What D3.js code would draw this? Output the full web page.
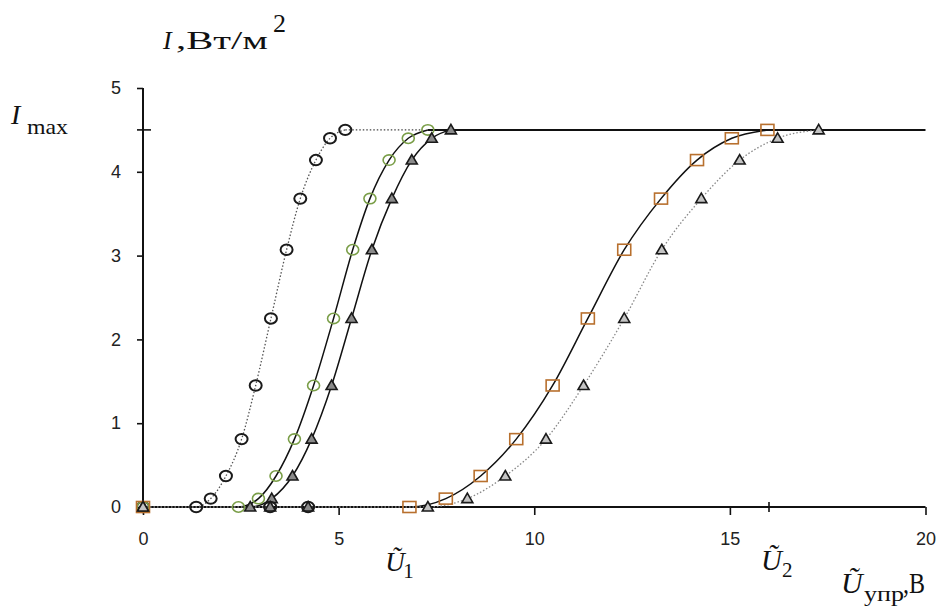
<!DOCTYPE html>
<html>
<head>
<meta charset="utf-8">
<script src="https://cdn.jsdelivr.net/npm/d3@7"></script>
<style>
  body { margin: 0; background: #fff; }
  .tick text { font-family: 'Liberation Sans', Arial, sans-serif; font-size: 18px; fill: #222; }
  .lbl { font-family: 'Liberation Serif', 'Times New Roman', serif; fill: #111; }
</style>
</head>
<body>
<div class="chart"></div>
<script>
// intensity levels shared by all curves (Вт/м²)
const levels = [0, 0, 0.1, 0.37, 0.81, 1.45, 2.25, 3.07, 3.68, 4.14, 4.4, 4.5]

// control voltage for each curve
const uBlackCircles = [0, 1.36, 1.73, 2.12, 2.52, 2.88, 3.27, 3.67, 4.02, 4.42, 4.78, 5.17]
const uGreenCircles = [0, 2.44, 2.95, 3.4, 3.87, 4.36, 4.87, 5.36, 5.8, 6.29, 6.78, 7.28]
const uDarkTriangles = [0, 2.74, 3.29, 3.82, 4.31, 4.82, 5.33, 5.85, 6.36, 6.87, 7.38, 7.87]
const uSquares = [0, 6.81, 7.74, 8.63, 9.54, 10.47, 11.37, 12.3, 13.24, 14.16, 15.05, 15.96]
const uGreyTriangles = [0, 7.28, 8.29, 9.26, 10.3, 11.26, 12.3, 13.26, 14.27, 15.25, 16.22, 17.27]

// stray zero readings drawn on the axis
const extraZeros = [3.25, 4.22]

const iMax = 4.5
const iMaxDotted = [5.17, 7.15]
const iMaxSolid = [7.28, 20]

const xTicks = [0, 5, 10, 15, 20]
const yTicks = [0, 1, 2, 3, 4, 5]
const u1 = 6.6
const u2 = 16

;(function init() {
  const width = 945
  const height = 608

  const xScale = d3.scaleLinear().domain([0, 20]).range([143, 925.5])
  const yScale = d3.scaleLinear().domain([0, 5]).range([507, 88])

  const svg = d3
    .select('.chart')
    .append('svg')
    .attr('width', width)
    .attr('height', height)

  // axes
  const yAxis = d3.axisLeft(yScale).tickValues(yTicks).tickFormat(d3.format('d'))
    .tickSize(6).tickPadding(16).tickSizeOuter(0)
  svg.append('g').attr('transform', 'translate(' + xScale(0) + ',0)').call(yAxis)
    .call((g) => g.select('.domain').remove())
  const xAxis = d3.axisBottom(xScale).tickValues(xTicks).tickFormat(d3.format('d'))
    .tickSize(8).tickPadding(17).tickSizeOuter(0)
  svg.append('g').attr('transform', 'translate(0,' + yScale(0) + ')').call(xAxis)
    .call((g) => g.select('.domain').remove())
  svg.selectAll('.tick line').attr('stroke', '#111').attr('stroke-width', 1.6)

  svg.append('line')
    .attr('x1', xScale(0)).attr('x2', xScale(0))
    .attr('y1', yScale(0)).attr('y2', yScale(5))
    .attr('stroke', '#111').attr('stroke-width', 2)
  svg.append('line')
    .attr('x1', xScale(0)).attr('x2', xScale(20))
    .attr('y1', yScale(0)).attr('y2', yScale(0))
    .attr('stroke', '#111').attr('stroke-width', 2)

  // crossing ticks for Imax and U2
  svg.append('line')
    .attr('x1', xScale(0) - 6).attr('x2', xScale(0) + 8)
    .attr('y1', yScale(iMax)).attr('y2', yScale(iMax))
    .attr('stroke', '#111').attr('stroke-width', 1.6)
  svg.append('line')
    .attr('x1', xScale(u2)).attr('x2', xScale(u2))
    .attr('y1', yScale(0) - 5).attr('y2', yScale(0) + 5)
    .attr('stroke', '#111').attr('stroke-width', 1.6)

  // Imax level
  svg.append('line')
    .attr('x1', xScale(iMaxSolid[0])).attr('x2', xScale(iMaxSolid[1]))
    .attr('y1', yScale(iMax)).attr('y2', yScale(iMax))
    .attr('stroke', '#111').attr('stroke-width', 2)
  svg.append('line')
    .attr('x1', xScale(iMaxDotted[0])).attr('x2', xScale(iMaxDotted[1]))
    .attr('y1', yScale(iMax)).attr('y2', yScale(iMax))
    .attr('stroke', '#444').attr('stroke-width', 1.3).attr('stroke-dasharray', '1.5,2')

  const series = [
    { u: uBlackCircles, stroke: '#555', dash: '1.5,2', width: 1.3, marker: 'circle', color: '#1a1a1a' },
    { u: uGreenCircles, stroke: '#111', dash: null, width: 1.5, marker: 'circle', color: '#7a9e48' },
    { u: uDarkTriangles, stroke: '#111', dash: null, width: 1.5, marker: 'triangle', fill: '#8a8a8a' },
    { u: uSquares, stroke: '#111', dash: null, width: 1.5, marker: 'square', color: '#b8702e' },
    { u: uGreyTriangles, stroke: '#888', dash: '1.5,2', width: 1.3, marker: 'triangle', fill: '#c4c4c4' }
  ]

  const line = d3
    .line()
    .x((d) => xScale(d[0]))
    .y((d) => yScale(d[1]))
    .curve(d3.curveMonotoneX)

  const tri = (cx, cy) =>
    'M' + cx + ',' + (cy - 5.5) + 'L' + (cx + 5.5) + ',' + (cy + 4) + 'L' + (cx - 5.5) + ',' + (cy + 4) + 'Z'

  for (const s of series) {
    const pts = s.u.map((u, i) => [u, levels[i]])
    svg.append('path')
      .datum(pts)
      .attr('d', line)
      .attr('fill', 'none')
      .attr('stroke', s.stroke)
      .attr('stroke-width', s.width)
      .attr('stroke-dasharray', s.dash)
  }

  const drawMarkers = (s, pts) => {
    const g = svg.append('g')
    if (s.marker === 'circle') {
      g.selectAll('ellipse').data(pts).enter().append('ellipse')
        .attr('cx', (d) => xScale(d[0])).attr('cy', (d) => yScale(d[1]))
        .attr('rx', 6).attr('ry', 5.2)
        .attr('fill', 'none').attr('stroke', s.color)
        .attr('stroke-width', s.color === '#1a1a1a' ? 2 : 1.6)
    } else if (s.marker === 'square') {
      g.selectAll('rect').data(pts).enter().append('rect')
        .attr('x', (d) => xScale(d[0]) - 6.5).attr('y', (d) => yScale(d[1]) - 5.5)
        .attr('width', 13).attr('height', 11)
        .attr('fill', 'none').attr('stroke', s.color).attr('stroke-width', 1.6)
    } else {
      g.selectAll('path').data(pts).enter().append('path')
        .attr('d', (d) => tri(xScale(d[0]), yScale(d[1])))
        .attr('fill', s.fill).attr('stroke', '#1a1a1a').attr('stroke-width', 1.6)
    }
  }

  for (const s of series) {
    drawMarkers(s, s.u.map((u, i) => [u, levels[i]]))
  }
  drawMarkers(series[2], extraZeros.map((u) => [u, 0]))
  drawMarkers(series[0], extraZeros.map((u) => [u, 0]))

  // labels
  const label = (x, y, size, txt, italic, len) => {
    const t = svg.append('text').attr('class', 'lbl')
      .attr('x', x).attr('y', y)
      .style('font-size', size + 'px')
      .style('font-style', italic ? 'italic' : 'normal')
      .text(txt)
    if (len) t.attr('textLength', len).attr('lengthAdjust', 'spacingAndGlyphs')
    return t
  }

  label(163, 49, 26, 'I', true)
  label(176, 49, 26, ',Вт/м', false, 92)
  label(273, 32, 26, '2', false)

  label(11, 124, 28, 'I', true)
  label(27, 134, 22, 'max', false, 41)

  label(xScale(u1) - 16, 571, 27, 'Ũ', true)
  label(xScale(u1) + 2, 578, 21, '1', false)

  label(xScale(u2) - 8, 570, 29, 'Ũ', true)
  label(xScale(u2) + 13, 577, 21, '2', false)

  label(841, 593, 30, 'Ũ', true)
  label(864, 601, 21, 'упр', false, 40)
  label(903, 593, 30, ',В', false, 22)
})()
</script>
</body>
</html>
